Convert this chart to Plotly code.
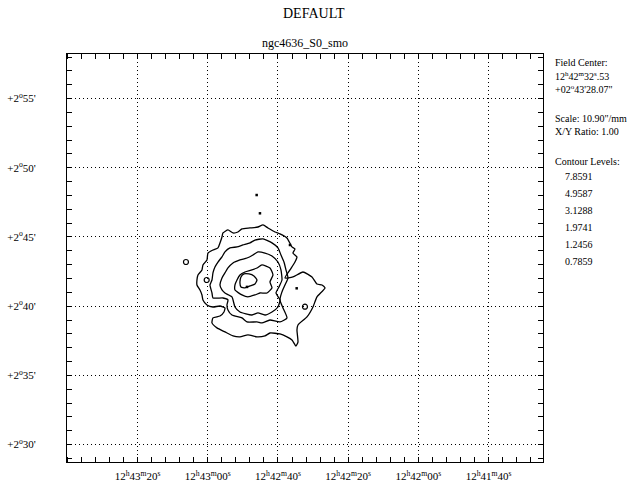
import plotly.graph_objects as go

# ---------------- data ----------------
# contour levels (labels on the right)
levels = ["7.8591", "4.9587", "3.1288", "1.9741", "1.2456", "0.7859"]

# axis ticks: RA in seconds past 12h42m, Dec in arcmin past +2 deg
ra_ticks = [80, 60, 40, 20, 0, -20]
ra_labels = ["12<sup>h</sup>43<sup>m</sup>20<sup>s</sup>", "12<sup>h</sup>43<sup>m</sup>00<sup>s</sup>",
             "12<sup>h</sup>42<sup>m</sup>40<sup>s</sup>", "12<sup>h</sup>42<sup>m</sup>20<sup>s</sup>",
             "12<sup>h</sup>42<sup>m</sup>00<sup>s</sup>", "12<sup>h</sup>41<sup>m</sup>40<sup>s</sup>"]
dec_ticks = [30, 35, 40, 45, 50, 55]
dec_labels = ["+2<sup>o</sup>30'", "+2<sup>o</sup>35'", "+2<sup>o</sup>40'",
              "+2<sup>o</sup>45'", "+2<sup>o</sup>50'", "+2<sup>o</sup>55'"]

# contour 0.7859 (outer)
c1_ra = [55.67, 54.25, 52.82, 51.40, 50.26, 47.98, 45.70, 44.27, 42.85, 40.85, 39.43, 37.44, 36.01,
         35.16, 35.73, 34.59, 35.16, 36.58, 38.01, 35.73, 32.88, 30.31, 28.89, 27.46, 26.61, 28.89,
         30.03, 31.74, 34.30, 34.59, 34.30, 34.87, 36.01, 37.44, 39.43, 42.28, 43.70, 45.98, 48.55,
         50.83, 52.82, 55.10, 57.38, 58.80, 58.52, 56.52, 55.38, 55.10, 56.52, 58.52, 60.23, 61.37,
         61.65, 62.22, 63.08, 63.08, 62.79, 61.65, 61.37, 60.23, 59.94, 58.52, 57.09, 56.52, 55.95, 55.67]
c1_dec = [45.29, 45.51, 45.29, 45.36, 45.58, 45.65, 45.72, 45.87, 45.65, 45.36, 45.22, 44.93, 44.28,
          44.13, 43.84, 43.56, 43.19, 42.62, 42.04, 42.11, 42.47, 42.11, 41.60, 41.53, 41.32, 40.67,
          39.94, 39.22, 38.64, 38.28, 37.41, 37.12, 37.56, 37.78, 37.99, 38.06, 37.85, 37.78, 37.92,
          37.78, 37.85, 38.14, 38.43, 38.79, 39.15, 39.29, 39.58, 39.87, 40.01, 39.94, 40.09, 40.45,
          40.81, 41.17, 41.53, 41.89, 42.25, 42.62, 42.98, 43.34, 43.84, 44.06, 44.21, 44.57, 45.00, 45.29]

# contour 1.2456
c2_ra = [46.55, 47.98, 49.97, 51.68, 53.68, 55.10, 55.95, 57.09, 57.95, 58.52, 58.80, 59.37, 58.80,
         58.52, 55.67, 54.25, 54.53, 54.25, 53.11, 50.26, 48.83, 45.98, 44.56, 42.28, 39.43, 37.44,
         38.58, 39.43, 38.86, 38.01, 37.15, 37.72, 38.29, 39.15, 40.00, 41.71, 44.27, 46.55]
c2_dec = [44.78, 44.57, 44.42, 44.28, 44.21, 43.92, 43.56, 43.19, 42.83, 42.40, 41.89, 41.53, 40.95,
          40.59, 40.59, 40.45, 40.09, 39.73, 39.36, 39.15, 38.86, 38.86, 38.79, 39.00, 38.86, 39.15,
          39.87, 40.45, 41.03, 41.53, 42.04, 42.62, 43.19, 43.70, 44.21, 44.57, 44.86, 44.78]

# contour 1.9741
c3_ra = [45.70, 47.12, 48.83, 50.83, 52.82, 54.25, 55.10, 55.95, 56.52, 55.95, 55.10, 53.11, 52.25,
         50.83, 47.41, 45.70, 43.70, 41.71, 40.00, 39.43, 40.57, 39.72, 38.86, 39.15, 40.00, 41.71,
         43.70, 45.70]
c3_dec = [43.92, 43.70, 43.48, 43.34, 43.12, 42.76, 42.40, 42.04, 41.53, 41.17, 40.95, 40.67, 39.94,
          39.58, 39.36, 39.51, 39.36, 39.58, 39.94, 40.45, 40.95, 41.39, 41.89, 42.62, 43.19, 43.63,
          43.84, 43.92]

# contour 3.1288
c4_ra = [44.56, 45.98, 47.41, 49.40, 50.83, 51.68, 52.25, 52.25, 50.26, 48.55, 46.55, 45.13, 43.13,
         41.71, 42.28, 41.42, 42.28, 44.56]
c4_dec = [42.98, 42.76, 42.62, 42.47, 42.25, 41.89, 41.53, 41.17, 40.81, 40.67, 40.81, 40.95, 40.95,
          41.32, 41.75, 42.25, 42.76, 42.98]

# contour 4.9587
c5_ra = [50.83, 50.54, 49.69, 48.26, 46.84, 45.98, 46.55, 47.98, 49.40, 50.54, 50.83]
c5_dec = [41.68, 42.11, 42.33, 42.33, 42.18, 41.89, 41.60, 41.46, 41.32, 41.39, 41.68]

# tiny isolated peaks (closed contours a pixel or two across)
peak_ra = [46.07, 45.13, 36.58, 34.67, 48.83]
peak_dec = [48.03, 46.71, 44.42, 41.29, 41.39]
# small isolated rings
ring_ra = [66.21, 60.31, 32.31]
ring_dec = [43.19, 41.89, 39.96]

# ---------------- figure ----------------
SERIF = "Liberation Serif, Times New Roman, serif"
fig = go.Figure()
for xs, ys in [(c1_ra, c1_dec), (c2_ra, c2_dec), (c3_ra, c3_dec), (c4_ra, c4_dec), (c5_ra, c5_dec)]:
    fig.add_trace(go.Scatter(x=xs, y=ys, mode="lines",
                             line=dict(color="black", width=1.3, shape="spline", smoothing=0.5),
                             hoverinfo="skip", showlegend=False))
fig.add_trace(go.Scatter(x=peak_ra, y=peak_dec, mode="markers",
                         marker=dict(symbol="square", size=2.5, color="black"),
                         hoverinfo="skip", showlegend=False))
fig.add_trace(go.Scatter(x=ring_ra, y=ring_dec, mode="markers",
                         marker=dict(symbol="circle-open", size=5, color="black", line=dict(width=1.2)),
                         hoverinfo="skip", showlegend=False))

axis_common = dict(showline=True, linecolor="black", linewidth=1, mirror="allticks",
                   showgrid=True, gridcolor="black", gridwidth=1, griddash="1px,3px",
                   ticks="", zeroline=False, automargin=False,
                   tickfont=dict(family=SERIF, size=11, color="black"))

fig.update_xaxes(range=[100.1, -35.5], tickmode="array", tickvals=ra_ticks, ticktext=ra_labels,
                 ticklabelstandoff=4,
                 minor=dict(dtick=4, tick0=0, ticks="inside", ticklen=5, tickcolor="black",
                            showgrid=False),
                 **axis_common)
fig.update_yaxes(range=[28.74, 58.22], tickmode="array", tickvals=dec_ticks, ticktext=dec_labels,
                 ticklabelstandoff=28,
                 minor=dict(dtick=1, tick0=0, ticks="inside", ticklen=5, tickcolor="black",
                            showgrid=False),
                 **axis_common)

# right-hand info panel
info = [("Field Center:", 553, 62), ("12<sup>h</sup>42<sup>m</sup>32<sup>s</sup>.53", 553, 76),
        ("+02<sup>o</sup>43'28.07\"", 553, 89),
        ("Scale: 10.90\"/mm", 553, 118), ("X/Y Ratio: 1.00", 553, 131),
        ("Contour Levels:", 553, 161)]
for i, lv in enumerate(levels):
    info.append((lv, 563, 176 + i * 17))
for txt, xp, yp in info:
    fig.add_annotation(text=txt, xref="paper", yref="paper",
                       x=(xp - 67) / 476, y=(462 - yp) / 408,
                       xanchor="left", yanchor="middle", showarrow=False,
                       font=dict(family=SERIF, size=10, color="black"))

fig.add_annotation(text="ngc4636_S0_smo", xref="paper", yref="paper", x=0.5, y=(462 - 43) / 408,
                   xanchor="center", yanchor="middle", showarrow=False,
                   font=dict(family=SERIF, size=12, color="black"))
fig.add_annotation(text="DEFAULT", xref="paper", yref="paper", x=(313.5 - 67) / 476,
                   y=(462 - 14) / 408, xanchor="center", yanchor="middle", showarrow=False,
                   font=dict(family=SERIF, size=14, color="black"))

fig.update_layout(
    width=627, height=486,
    margin=dict(l=67, r=84, t=54, b=24, autoexpand=False),
    paper_bgcolor="white", plot_bgcolor="white",
    showlegend=False,
)

fig.write_html("out.html", config={"displayModeBar": False},
               post_script="document.body.style.margin='0px';document.body.style.padding='0px';")
